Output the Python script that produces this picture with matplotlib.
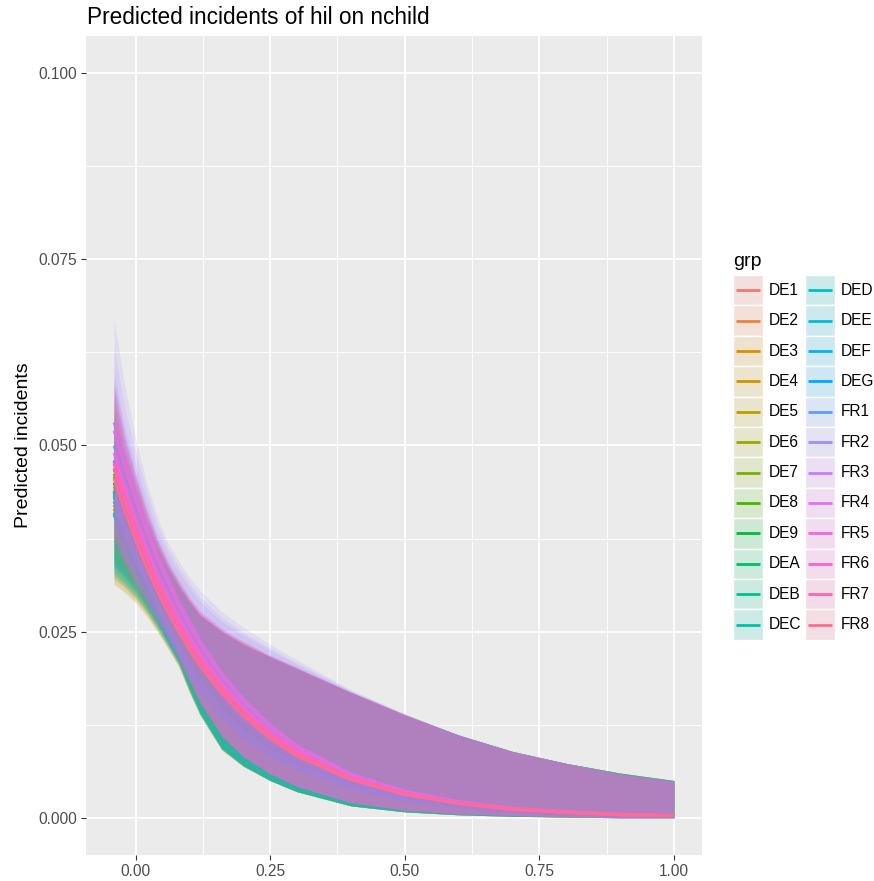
import numpy as np
import matplotlib
matplotlib.use("Agg")
import matplotlib.pyplot as plt
from matplotlib.patches import Rectangle

plt.rcParams['font.family'] = ['Liberation Sans', 'DejaVu Sans']

# x positions (nchild) where the curves were read
x_vals = [-0.04, -0.02, 0.0, 0.02, 0.04, 0.06, 0.08, 0.10, 0.12, 0.16,
          0.20, 0.25, 0.30, 0.40, 0.50, 0.60, 0.70, 0.80, 0.90, 1.00]

de_groups = ['DE1', 'DE2', 'DE3', 'DE4', 'DE5', 'DE6', 'DE7', 'DE8',
             'DE9', 'DEA', 'DEB', 'DEC', 'DED', 'DEE', 'DEF', 'DEG']
fr_groups = ['FR1', 'FR2', 'FR3', 'FR4', 'FR5', 'FR6', 'FR7', 'FR8']

# predicted incidents, DE groups
de_fit = [
    [.0445, .0402, .0363, .0328, .0296, .0265, .0236, .0210, .0187, .0149, .0119, .0092, .0071, .0043, .0026, .0016, .0010, .0006, .0004, .0002],
    [.0430, .0388, .0350, .0317, .0286, .0256, .0228, .0203, .0181, .0144, .0115, .0089, .0069, .0042, .0025, .0015, .0009, .0006, .0003, .0002],
    [.0420, .0379, .0342, .0310, .0279, .0250, .0223, .0198, .0176, .0141, .0113, .0087, .0067, .0041, .0025, .0015, .0009, .0005, .0003, .0002],
    [.0415, .0375, .0338, .0306, .0276, .0247, .0220, .0196, .0174, .0139, .0111, .0086, .0066, .0040, .0024, .0015, .0009, .0005, .0003, .0002],
    [.0440, .0397, .0359, .0324, .0293, .0262, .0233, .0208, .0185, .0147, .0118, .0091, .0070, .0043, .0026, .0016, .0009, .0006, .0004, .0002],
    [.0458, .0414, .0373, .0338, .0305, .0273, .0243, .0216, .0192, .0153, .0123, .0095, .0073, .0044, .0027, .0016, .0010, .0006, .0004, .0002],
    [.0462, .0417, .0377, .0340, .0307, .0275, .0245, .0218, .0194, .0155, .0124, .0096, .0074, .0045, .0027, .0017, .0010, .0006, .0004, .0002],
    [.0468, .0423, .0381, .0345, .0311, .0278, .0248, .0221, .0197, .0157, .0125, .0097, .0075, .0045, .0028, .0017, .0010, .0006, .0004, .0002],
    [.0450, .0406, .0367, .0332, .0299, .0268, .0239, .0212, .0189, .0151, .0121, .0093, .0072, .0044, .0027, .0016, .0010, .0006, .0004, .0002],
    [.0438, .0396, .0357, .0323, .0291, .0261, .0232, .0207, .0184, .0147, .0117, .0091, .0070, .0042, .0026, .0016, .0009, .0006, .0004, .0002],
    [.0432, .0390, .0352, .0318, .0287, .0257, .0229, .0204, .0181, .0145, .0116, .0089, .0069, .0042, .0025, .0016, .0009, .0006, .0003, .0002],
    [.0410, .0370, .0334, .0302, .0273, .0244, .0217, .0194, .0172, .0137, .0110, .0085, .0066, .0040, .0024, .0015, .0009, .0005, .0003, .0002],
    [.0407, .0368, .0332, .0300, .0271, .0242, .0216, .0192, .0171, .0136, .0109, .0084, .0065, .0039, .0024, .0015, .0009, .0005, .0003, .0002],
    [.0425, .0384, .0346, .0313, .0283, .0253, .0225, .0201, .0179, .0142, .0114, .0088, .0068, .0041, .0025, .0015, .0009, .0006, .0003, .0002],
    [.0435, .0393, .0355, .0321, .0289, .0259, .0231, .0205, .0183, .0146, .0117, .0090, .0070, .0042, .0026, .0016, .0009, .0006, .0003, .0002],
    [.0480, .0433, .0391, .0354, .0319, .0286, .0254, .0227, .0202, .0161, .0129, .0099, .0077, .0047, .0028, .0017, .0010, .0006, .0004, .0002],
]
de_lower = [
    [.0335, .0321, .0304, .0283, .0260, .0235, .0209, .0172, .0140, .0093, .0070, .0050, .0035, .0016, .0008, .0004, .0002, .0001, .0000, .0000],
    [.0325, .0312, .0297, .0278, .0255, .0231, .0206, .0170, .0138, .0092, .0069, .0050, .0035, .0016, .0008, .0004, .0002, .0001, .0000, .0000],
    [.0313, .0302, .0289, .0271, .0250, .0227, .0203, .0168, .0137, .0091, .0069, .0050, .0035, .0016, .0008, .0004, .0002, .0001, .0000, .0000],
    [.0315, .0304, .0290, .0272, .0251, .0228, .0203, .0168, .0137, .0091, .0069, .0050, .0035, .0016, .0008, .0004, .0002, .0001, .0000, .0000],
    [.0320, .0308, .0294, .0275, .0253, .0229, .0205, .0169, .0138, .0091, .0069, .0050, .0035, .0016, .0008, .0004, .0002, .0001, .0000, .0000],
    [.0340, .0325, .0308, .0286, .0262, .0236, .0210, .0173, .0140, .0093, .0070, .0050, .0035, .0016, .0008, .0004, .0002, .0001, .0000, .0000],
    [.0345, .0329, .0311, .0289, .0264, .0238, .0211, .0174, .0141, .0093, .0070, .0050, .0035, .0016, .0008, .0004, .0002, .0001, .0000, .0000],
    [.0350, .0333, .0315, .0291, .0267, .0240, .0212, .0175, .0141, .0094, .0070, .0050, .0035, .0016, .0008, .0004, .0002, .0001, .0000, .0000],
    [.0338, .0323, .0307, .0285, .0261, .0236, .0209, .0173, .0140, .0093, .0070, .0050, .0035, .0016, .0008, .0004, .0002, .0001, .0000, .0000],
    [.0330, .0316, .0301, .0280, .0258, .0233, .0207, .0171, .0139, .0092, .0070, .0050, .0035, .0016, .0008, .0004, .0002, .0001, .0000, .0000],
    [.0328, .0315, .0300, .0279, .0257, .0232, .0207, .0171, .0139, .0092, .0070, .0050, .0035, .0016, .0008, .0004, .0002, .0001, .0000, .0000],
    [.0322, .0310, .0295, .0276, .0254, .0230, .0205, .0170, .0138, .0092, .0069, .0050, .0035, .0016, .0008, .0004, .0002, .0001, .0000, .0000],
    [.0325, .0312, .0297, .0278, .0255, .0231, .0206, .0170, .0138, .0092, .0069, .0050, .0035, .0016, .0008, .0004, .0002, .0001, .0000, .0000],
    [.0335, .0321, .0304, .0283, .0260, .0235, .0209, .0172, .0140, .0093, .0070, .0050, .0035, .0016, .0008, .0004, .0002, .0001, .0000, .0000],
    [.0340, .0325, .0308, .0286, .0262, .0236, .0210, .0173, .0140, .0093, .0070, .0050, .0035, .0016, .0008, .0004, .0002, .0001, .0000, .0000],
    [.0365, .0346, .0325, .0300, .0273, .0245, .0216, .0177, .0143, .0095, .0071, .0050, .0035, .0016, .0008, .0004, .0002, .0001, .0000, .0000],
]
de_upper = [
    [.0545, .0487, .0443, .0400, .0365, .0336, .0312, .0290, .0272, .0250, .0233, .0216, .0200, .0168, .0138, .0111, .0089, .0073, .0060, .0050],
    [.0530, .0476, .0435, .0395, .0362, .0334, .0310, .0290, .0272, .0250, .0233, .0216, .0200, .0168, .0138, .0111, .0089, .0073, .0060, .0050],
    [.0520, .0469, .0430, .0391, .0359, .0332, .0309, .0289, .0272, .0250, .0233, .0216, .0200, .0168, .0138, .0111, .0089, .0073, .0060, .0050],
    [.0515, .0466, .0428, .0389, .0358, .0331, .0308, .0289, .0272, .0250, .0233, .0216, .0200, .0168, .0138, .0111, .0089, .0073, .0060, .0050],
    [.0540, .0483, .0440, .0398, .0364, .0335, .0311, .0290, .0272, .0250, .0233, .0216, .0200, .0168, .0138, .0111, .0089, .0073, .0060, .0050],
    [.0558, .0496, .0449, .0404, .0369, .0338, .0313, .0291, .0272, .0250, .0233, .0216, .0200, .0168, .0138, .0111, .0089, .0073, .0060, .0050],
    [.0562, .0498, .0451, .0406, .0370, .0338, .0313, .0291, .0272, .0250, .0233, .0216, .0200, .0168, .0138, .0111, .0089, .0073, .0060, .0050],
    [.0568, .0503, .0454, .0408, .0371, .0339, .0314, .0291, .0272, .0250, .0233, .0216, .0200, .0168, .0138, .0111, .0089, .0073, .0060, .0050],
    [.0550, .0490, .0445, .0402, .0367, .0337, .0312, .0291, .0272, .0250, .0233, .0216, .0200, .0168, .0138, .0111, .0089, .0073, .0060, .0050],
    [.0538, .0482, .0439, .0397, .0364, .0335, .0311, .0290, .0272, .0250, .0233, .0216, .0200, .0168, .0138, .0111, .0089, .0073, .0060, .0050],
    [.0532, .0477, .0436, .0395, .0362, .0334, .0310, .0290, .0272, .0250, .0233, .0216, .0200, .0168, .0138, .0111, .0089, .0073, .0060, .0050],
    [.0510, .0462, .0425, .0388, .0357, .0331, .0308, .0289, .0272, .0250, .0233, .0216, .0200, .0168, .0138, .0111, .0089, .0073, .0060, .0050],
    [.0507, .0460, .0424, .0386, .0356, .0330, .0308, .0288, .0272, .0250, .0233, .0216, .0200, .0168, .0138, .0111, .0089, .0073, .0060, .0050],
    [.0525, .0473, .0433, .0393, .0360, .0333, .0310, .0289, .0272, .0250, .0233, .0216, .0200, .0168, .0138, .0111, .0089, .0073, .0060, .0050],
    [.0535, .0480, .0438, .0396, .0363, .0334, .0311, .0290, .0272, .0250, .0233, .0216, .0200, .0168, .0138, .0111, .0089, .0073, .0060, .0050],
    [.0580, .0511, .0460, .0412, .0374, .0341, .0315, .0292, .0272, .0250, .0233, .0216, .0200, .0168, .0138, .0111, .0089, .0073, .0060, .0050],
]

# predicted incidents, FR groups
fr_fit = [
    [.0500, .0453, .0410, .0371, .0335, .0304, .0275, .0249, .0225, .0184, .0151, .0118, .0092, .0056, .0034, .0020, .0012, .0008, .0005, .0003],
    [.0531, .0481, .0435, .0393, .0356, .0322, .0292, .0264, .0238, .0195, .0160, .0125, .0097, .0059, .0036, .0022, .0013, .0008, .0005, .0003],
    [.0520, .0471, .0426, .0385, .0348, .0316, .0285, .0258, .0233, .0191, .0157, .0122, .0095, .0058, .0035, .0021, .0013, .0008, .0005, .0003],
    [.0490, .0443, .0401, .0363, .0328, .0297, .0269, .0244, .0220, .0180, .0147, .0115, .0090, .0054, .0033, .0020, .0012, .0007, .0004, .0003],
    [.0478, .0433, .0391, .0354, .0320, .0290, .0262, .0238, .0215, .0176, .0144, .0112, .0087, .0053, .0032, .0020, .0012, .0007, .0004, .0003],
    [.0470, .0425, .0385, .0348, .0315, .0285, .0258, .0234, .0211, .0173, .0141, .0110, .0086, .0052, .0032, .0019, .0012, .0007, .0004, .0003],
    [.0475, .0430, .0389, .0352, .0318, .0288, .0261, .0236, .0213, .0175, .0143, .0112, .0087, .0053, .0032, .0019, .0012, .0007, .0004, .0003],
    [.0455, .0412, .0373, .0337, .0305, .0276, .0250, .0226, .0204, .0167, .0137, .0107, .0083, .0051, .0031, .0019, .0011, .0007, .0004, .0003],
]
fr_lower = [
    [.0390, .0354, .0325, .0299, .0272, .0245, .0216, .0186, .0156, .0110, .0082, .0059, .0042, .0020, .0010, .0005, .0003, .0001, .0000, .0000],
    [.0420, .0378, .0345, .0314, .0284, .0254, .0222, .0190, .0159, .0112, .0082, .0059, .0042, .0020, .0010, .0005, .0003, .0001, .0000, .0000],
    [.0410, .0370, .0338, .0309, .0280, .0251, .0220, .0189, .0158, .0111, .0082, .0059, .0042, .0020, .0010, .0005, .0003, .0001, .0000, .0000],
    [.0385, .0350, .0322, .0296, .0270, .0243, .0215, .0185, .0155, .0110, .0082, .0059, .0042, .0020, .0010, .0005, .0003, .0001, .0000, .0000],
    [.0378, .0344, .0317, .0293, .0267, .0241, .0214, .0184, .0154, .0110, .0082, .0059, .0042, .0020, .0010, .0005, .0003, .0001, .0000, .0000],
    [.0372, .0340, .0314, .0290, .0265, .0239, .0212, .0183, .0154, .0109, .0082, .0059, .0042, .0020, .0010, .0005, .0003, .0001, .0000, .0000],
    [.0375, .0342, .0316, .0291, .0266, .0240, .0213, .0184, .0154, .0110, .0082, .0059, .0042, .0020, .0010, .0005, .0003, .0001, .0000, .0000],
    [.0360, .0330, .0306, .0284, .0260, .0236, .0210, .0181, .0153, .0109, .0082, .0059, .0042, .0020, .0010, .0005, .0003, .0001, .0000, .0000],
]
fr_upper = [
    [.0600, .0527, .0475, .0428, .0385, .0354, .0330, .0308, .0290, .0264, .0245, .0225, .0206, .0170, .0139, .0111, .0089, .0073, .0059, .0049],
    [.0670, .0580, .0510, .0452, .0405, .0370, .0345, .0323, .0305, .0277, .0256, .0233, .0212, .0172, .0140, .0112, .0090, .0073, .0059, .0049],
    [.0630, .0550, .0492, .0440, .0395, .0362, .0337, .0315, .0296, .0269, .0249, .0228, .0208, .0171, .0139, .0111, .0089, .0073, .0059, .0049],
    [.0590, .0518, .0465, .0418, .0378, .0346, .0320, .0297, .0278, .0255, .0237, .0218, .0202, .0169, .0139, .0111, .0089, .0073, .0059, .0049],
    [.0585, .0514, .0462, .0416, .0376, .0344, .0319, .0296, .0277, .0254, .0237, .0218, .0202, .0169, .0139, .0111, .0089, .0073, .0059, .0049],
    [.0575, .0507, .0457, .0412, .0373, .0342, .0317, .0295, .0276, .0253, .0236, .0218, .0202, .0169, .0139, .0111, .0089, .0073, .0059, .0049],
    [.0578, .0509, .0459, .0413, .0374, .0343, .0318, .0295, .0276, .0253, .0236, .0218, .0202, .0169, .0139, .0111, .0089, .0073, .0059, .0049],
    [.0560, .0496, .0449, .0406, .0368, .0339, .0315, .0293, .0274, .0252, .0236, .0217, .0201, .0168, .0138, .0110, .0089, .0073, .0059, .0049],
]

x_ticks = [0.0, 0.25, 0.5, 0.75, 1.0]
y_ticks = [0.0, 0.025, 0.05, 0.075, 0.1]


def hue_colors(n, l=65, c=100):
    # ggplot2 default discrete hue palette (polar LUV -> sRGB)
    hues = 15 + np.arange(n) * 360.0 / n
    xn, yn, zn = 95.047, 100.0, 108.883
    un = 4 * xn / (xn + 15 * yn + 3 * zn)
    vn = 9 * yn / (xn + 15 * yn + 3 * zn)
    Y = yn * ((l + 16) / 116.0) ** 3
    out = []
    for h in hues:
        u = c * np.cos(np.radians(h))
        v = c * np.sin(np.radians(h))
        up = u / (13 * l) + un
        vp = v / (13 * l) + vn
        X = 9 * Y * up / (4 * vp)
        Z = -X / 3 - 5 * Y + 3 * Y / vp
        X, Yr, Z = X / 100, Y / 100, Z / 100
        rgb = [3.240479 * X - 1.537150 * Yr - 0.498535 * Z,
               -0.969256 * X + 1.875992 * Yr + 0.041556 * Z,
               0.055648 * X - 0.204043 * Yr + 1.057311 * Z]
        rgb = [12.92 * t if t <= 0.0031308 else 1.055 * t ** (1 / 2.4) - 0.055 for t in rgb]
        out.append(tuple(min(max(t, 0), 1) for t in rgb))
    return out


groups = de_groups + fr_groups
fits = de_fit + fr_fit
lowers = de_lower + fr_lower
uppers = de_upper + fr_upper
colors = hue_colors(len(groups))

W, H = 874, 881
fig = plt.figure(figsize=(W / 100, H / 100), dpi=100)
fig.patch.set_facecolor('white')
ax = fig.add_axes([86 / W, 1 - 855 / H, (702 - 86) / W, (855 - 36) / H])
ax.set_facecolor('#EBEBEB')

# each group: ribbon, then its line; later groups cover earlier lines
for i, (fit, lo, hi, col) in enumerate(zip(fits, lowers, uppers, colors)):
    ax.fill_between(x_vals, lo, hi, color=col, alpha=0.15, linewidth=0,
                    zorder=3 + 2 * i)
    ax.plot(x_vals, fit, color=col, lw=2.0, solid_capstyle='butt',
            zorder=4 + 2 * i)

ax.set_xlim(-0.092, 1.052)
ax.set_ylim(-0.005, 0.105)
ax.set_xticks(x_ticks)
ax.set_xticklabels(['0.00', '0.25', '0.50', '0.75', '1.00'])
ax.set_yticks(y_ticks)
ax.set_yticklabels(['0.000', '0.025', '0.050', '0.075', '0.100'])
ax.set_xticks([0.125, 0.375, 0.625, 0.875], minor=True)
ax.set_yticks([0.0125, 0.0375, 0.0625, 0.0875], minor=True)
ax.grid(which='major', color='white', lw=1.3)
ax.grid(which='minor', color='white', lw=0.65)
ax.set_axisbelow(True)
for s in ax.spines.values():
    s.set_visible(False)
ax.tick_params(which='major', length=3.5, width=0.8, color='#333333',
               labelsize=11.2, labelcolor='#4D4D4D', pad=2.8)
ax.tick_params(which='minor', length=0)

ax.set_ylabel('Predicted incidents', fontsize=14, color='black', labelpad=5)
fig.text(87 / W, 1 - 17 / H, 'Predicted incidents of hil on nchild',
         fontsize=16.3, color='black', ha='left', va='center')

# legend, drawn in pixel coordinates
lax = fig.add_axes([0, 0, 1, 1])
lax.set_xlim(0, W)
lax.set_ylim(H, 0)
lax.axis('off')
lax.text(733, 262, 'grp', fontsize=14, ha='left', va='center')
key = 30.4
top = 275
for i, (g, col) in enumerate(zip(groups, colors)):
    cidx, ridx = divmod(i, 12)
    kx = 733 if cidx == 0 else 805
    ky = top + ridx * key
    lax.add_patch(Rectangle((kx, ky), key, key, facecolor='#F2F2F2',
                            edgecolor='none'))
    lax.add_patch(Rectangle((kx, ky), key, key, facecolor=col, alpha=0.15,
                            edgecolor='none'))
    lax.add_patch(Rectangle((kx, ky), key, key, facecolor='none',
                            edgecolor='white', lw=1.0))
    lax.plot([kx + 3, kx + key - 3], [ky + key / 2, ky + key / 2], color=col,
             lw=2.0, solid_capstyle='butt')
    lax.text(kx + key + 5, ky + key / 2, g, fontsize=11.2, ha='left',
             va='center')

fig.savefig('out.png', dpi=100)
